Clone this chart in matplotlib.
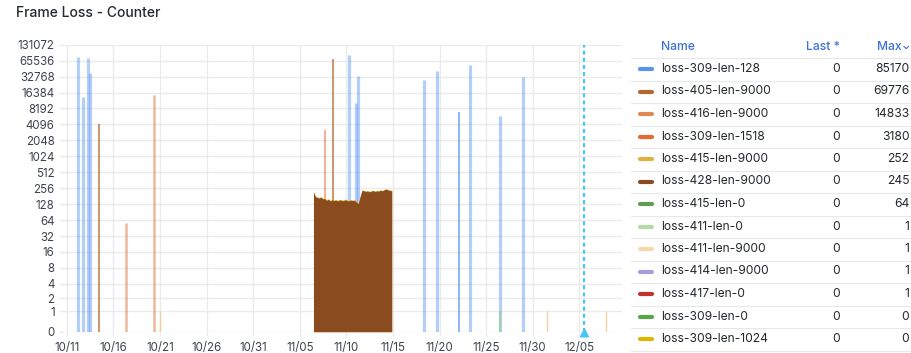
import matplotlib
matplotlib.use('Agg')
import matplotlib.pyplot as plt
import matplotlib.dates as mdates
from matplotlib.ticker import FixedLocator, NullLocator
import pandas as pd

plt.rcParams['font.family'] = ['Inter', 'DejaVu Sans']

# ---------------- data ----------------
x_start = '2023-10-10 14:00'
x_end = '2023-12-09 14:00'
xtick_labels = ['10/11', '10/16', '10/21', '10/26', '10/31', '11/05',
                '11/10', '11/15', '11/20', '11/25', '11/30', '12/05']
xtick_dates = ['2023-10-11', '2023-10-16', '2023-10-21', '2023-10-26', '2023-10-31',
               '2023-11-05', '2023-11-10', '2023-11-15', '2023-11-20', '2023-11-25',
               '2023-11-30', '2023-12-05']
ytick_values = [0, 1, 2, 4, 8, 16, 32, 64, 128, 256, 512, 1024, 2048, 4096,
                8192, 16384, 32768, 65536, 131072]

# loss-309-len-128 spikes
s128_times = ['2023-10-12 05:00', '2023-10-12 17:15', '2023-10-13 07:40', '2023-10-13 11:15',
              '2023-11-10 06:30', '2023-11-11 00:30', '2023-11-11 07:10',
              '2023-11-18 07:40', '2023-11-19 17:00', '2023-11-23 07:40',
              '2023-11-26 11:20', '2023-11-28 22:30']
s128_values = [78000, 13300, 74600, 38300, 85170, 10300, 33600,
               28300, 41300, 53600, 5840, 31800]
s128_dark_times = ['2023-11-22 03:20']
s128_dark_values = [6950]

# loss-405-len-9000
s405_times = ['2023-10-14 12:00', '2023-11-08 14:40']
s405_values = [4100, 69776]

# loss-416-len-9000
s416_times = ['2023-10-17 08:00', '2023-10-20 08:10']
s416_values = [56, 14833]

# loss-309-len-1518
s1518_times = ['2023-11-07 16:30']
s1518_values = [3180]

# loss-411-len-9000
s411_9000_times = ['2023-10-21 00:15', '2023-12-01 14:00', '2023-12-07 19:30']
s411_9000_values = [1, 1, 1]

# loss-411-len-0
s411_0_times = ['2023-11-26 12:00']
s411_0_values = [1]

# series hidden under the brown block
s415_0_times = ['2023-11-09 12:00']
s415_0_values = [64]
s414_times = ['2023-11-10 03:00']
s414_values = [1]
s417_times = ['2023-11-12 06:00']
s417_values = [1]

# loss-428-len-9000 block and loss-415-len-9000 above it
block_start = '2023-11-06 11:15'
block_freq = '288min'
s428_values = [215, 178, 170, 166, 172, 160, 163, 150, 158, 146, 155, 149, 152, 147,
               153, 150, 148, 154, 150, 146, 152, 149, 151, 140, 130, 175, 232, 228,
               222, 226, 219, 224, 230, 221, 227, 225, 233, 228, 238, 245, 236, 232, 228]
s415_9000_values = [222, 184, 176, 171, 178, 166, 168, 156, 163, 152, 160, 155, 157, 152,
                    158, 156, 153, 159, 156, 151, 157, 154, 156, 146, 136, 181, 238, 234,
                    228, 232, 225, 230, 236, 227, 233, 231, 239, 234, 244, 252, 242, 238, 234]

annotation_time = '2023-12-05 13:00'

# legend table
legend_names = ['loss-309-len-128', 'loss-405-len-9000', 'loss-416-len-9000',
                'loss-309-len-1518', 'loss-415-len-9000', 'loss-428-len-9000',
                'loss-415-len-0', 'loss-411-len-0', 'loss-411-len-9000',
                'loss-414-len-9000', 'loss-417-len-0', 'loss-309-len-0',
                'loss-309-len-1024']
legend_last = [0, 0, 0, 0, 0, 0, 0, 0, 0, 0, 0, 0, 0]
legend_max = [85170, 69776, 14833, 3180, 252, 245, 64, 1, 1, 1, 1, 0, 0]
legend_colors = ['#5794F2', '#B5652E', '#DE8A55', '#E8692B', '#E0B040', '#8A4B1E',
                 '#629E51', '#B5DBA8', '#F5D9A8', '#A59EDD', '#C4302B', '#56A64B',
                 '#E0B400']

# ---------------- figure ----------------
W, H = 912, 353
fig = plt.figure(figsize=(W / 100, H / 100), dpi=100)
fig.patch.set_facecolor('white')

ax_l, ax_r, ax_t, ax_b = 63, 622, 44.7, 331.7
ax = fig.add_axes([ax_l / W, 1 - ax_b / H, (ax_r - ax_l) / W, (ax_b - ax_t) / H])
ax.set_yscale('asinh', linear_width=1)
ax.set_ylim(0, 131072)
ax.set_xlim(mdates.datestr2num(x_start), mdates.datestr2num(x_end))

def dn(lst):
    return mdates.datestr2num(lst)

def spikes(times, values, color, lw, alpha, z=2):
    ax.vlines(dn(times), 0, values, colors=color, lw=lw, alpha=alpha, zorder=z)

spikes(s415_0_times, s415_0_values, '#629E51', 2.0, 0.6)
spikes(s414_times, s414_values, '#A59EDD', 2.0, 0.6)
spikes(s417_times, s417_values, '#C4302B', 2.0, 0.6)
spikes(s128_times, s128_values, '#5794F2', 2.3, 0.45)
spikes(s128_dark_times, s128_dark_values, '#5794F2', 1.1, 0.85)
spikes(s405_times, s405_values, '#B5652E', 1.3, 0.75)
spikes(s416_times, s416_values, '#DE8A55', 1.8, 0.6)
spikes(s1518_times, s1518_values, '#E8692B', 1.5, 0.5)
spikes(s411_9000_times, s411_9000_values, '#F0C890', 1.0, 0.8)
spikes(s411_0_times, s411_0_values, '#9FD08E', 1.4, 0.8)

block_times = pd.date_range(block_start, periods=len(s428_values), freq=block_freq)
bt = mdates.date2num(block_times.to_pydatetime())
ax.fill_between(bt, 0, s415_9000_values, color='#E0B040', alpha=0.9, lw=0, zorder=3)
ax.fill_between(bt, 0, s428_values, color='#8A4B1E', lw=0, zorder=4)

ann_x = dn([annotation_time])[0]
ax.axvline(ann_x, color='#4CC4F0', lw=1.6, ls=(0, (1.8, 1.4)), zorder=5)
ax.plot([ann_x], [0], marker='^', ms=6.5, color='#4CC4F0', mec='none',
        clip_on=False, zorder=6, transform=ax.transData)

# axes styling
ax.set_yticks(ytick_values)
ax.yaxis.set_minor_locator(NullLocator())
ax.set_yticklabels([str(v) for v in ytick_values])
ax.xaxis.set_major_locator(FixedLocator(dn(xtick_dates)))
ax.xaxis.set_minor_locator(NullLocator())
ax.set_xticklabels(xtick_labels)
ax.grid(True, color='#EBEBEB', lw=1.0, zorder=0)
ax.set_axisbelow(True)
for s in ax.spines.values():
    s.set_visible(False)
ax.tick_params(axis='both', length=3, width=1, color='#EBEBEB',
               labelsize=8.3, labelcolor='#3E444C')
ax.tick_params(axis='y', pad=3)
ax.tick_params(axis='x', pad=4.2)

fig.text(16 / W, 1 - 13 / H, 'Frame Loss - Counter', fontsize=10, weight='medium',
         color='#24292E', va='center', ha='left')

# legend table in pixel coordinates
lg = fig.add_axes([0, 0, 1, 1])
lg.set_xlim(0, W)
lg.set_ylim(H, 0)
lg.axis('off')
lg.patch.set_alpha(0)

hdr_color = '#3D71D9'
lg.text(660.7, 46.7, 'Name', color=hdr_color, fontsize=8.7, weight='medium',
        ha='left', va='center')
lg.text(840, 46.7, 'Last *', color=hdr_color, fontsize=8.7, weight='medium',
        ha='right', va='center')
lg.text(901.5, 46.7, 'Max', color=hdr_color, fontsize=8.7, weight='medium',
        ha='right', va='center')
lg.plot([904, 906.2, 908.4], [46.5, 48.7, 46.5], color=hdr_color, lw=0.8)

for k in range(len(legend_names) + 1):
    yy = 58.3 + 22.5 * k
    lg.plot([631, 912], [yy, yy], color='#E8E8E8', lw=0.8)

for i, (nm, la, mx, c) in enumerate(zip(legend_names, legend_last, legend_max, legend_colors)):
    yy = 69 + 22.5 * i
    lg.plot([640, 652], [yy, yy], color=c, lw=3, solid_capstyle='round')
    lg.text(660.7, yy, nm, color='#24292E', fontsize=8.7, ha='left', va='center')
    lg.text(840, yy, str(la), color='#24292E', fontsize=8.7, ha='right', va='center')
    lg.text(909.3, yy, str(mx), color='#24292E', fontsize=8.7, ha='right', va='center')

fig.savefig('out.png', dpi=100, facecolor='white')
